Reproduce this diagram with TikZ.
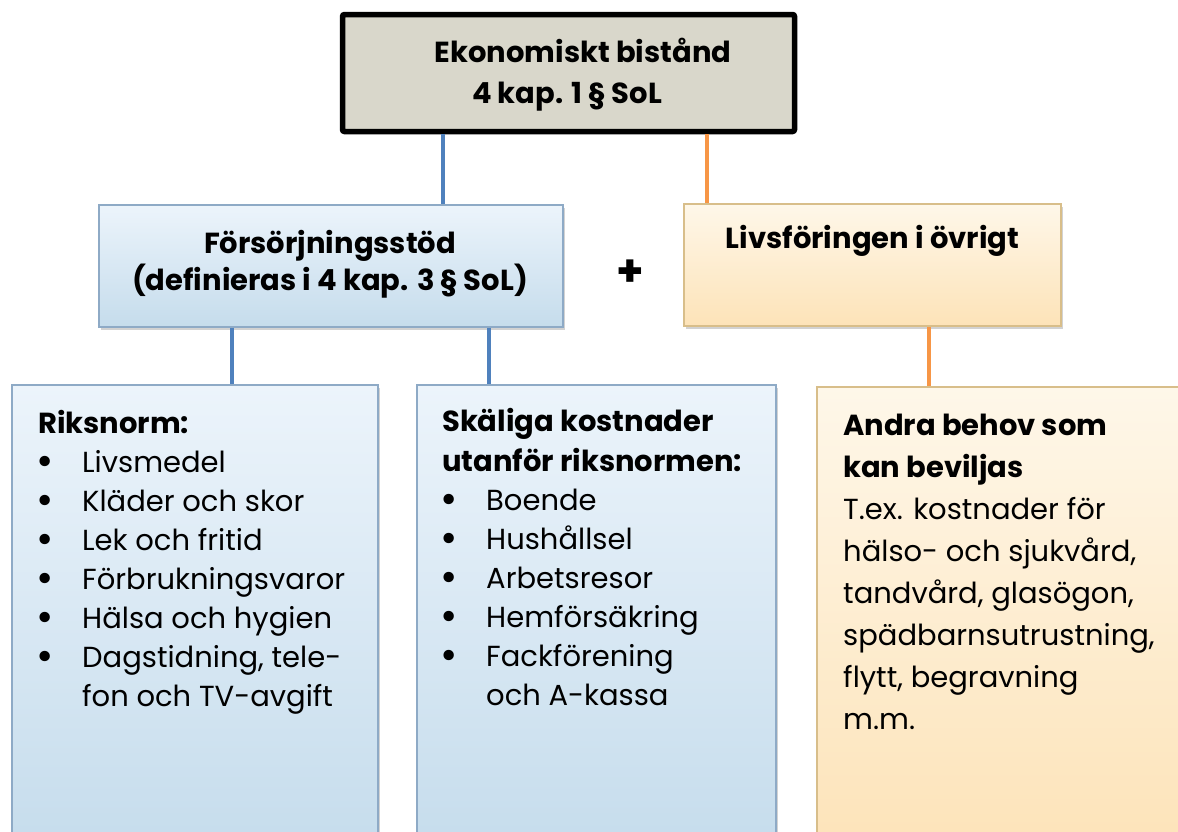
\documentclass[tikz,border=0pt]{standalone}
\usepackage{fontspec}
\setmainfont{Poppins}
\usetikzlibrary{shadows}
\definecolor{topgray}{RGB}{217,215,203}
\definecolor{lineblue}{RGB}{79,129,189}
\definecolor{lineorange}{RGB}{247,150,70}
\definecolor{blueborder}{RGB}{142,170,198}
\definecolor{bluetop}{RGB}{236,244,251}
\definecolor{bluebot}{RGB}{197,220,236}
\definecolor{orangeborder}{RGB}{216,190,138}
\definecolor{orangetop}{RGB}{254,247,233}
\definecolor{orangebot}{RGB}{253,227,184}
\tikzset{
  topbox/.style={draw=black, line width=5.5pt, fill=topgray, rounded corners=2pt, inner sep=0},
  bluebox/.style={draw=blueborder, line width=1.3pt, top color=bluetop, bottom color=bluebot, inner sep=0,
     drop shadow={shadow xshift=2pt, shadow yshift=-3pt, opacity=0.35}},
  orangebox/.style={draw=orangeborder, line width=1.3pt, top color=orangetop, bottom color=orangebot, inner sep=0,
     drop shadow={shadow xshift=2pt, shadow yshift=-3pt, opacity=0.35}},
  bline/.style={draw=lineblue, line width=3.6pt},
  oline/.style={draw=lineorange, line width=3.6pt},
  txt/.style={inner sep=0, font=\fontsize{29}{39}\selectfont},
}
\newcommand{\bul}[1]{\hbox{\makebox[44pt][l]{\hspace{-2pt}\raisebox{-3pt}{\fontsize{42}{42}\selectfont\textbullet}}#1}}
\newcommand{\cont}[1]{\hbox{\hspace{44pt}#1}}
\begin{document}
\begin{tikzpicture}[x=1pt,y=1pt]
\useasboundingbox (0,0) rectangle (1178,-831);
\fill[white] (0,0) rectangle (1178,-831);
\clip (0,0) rectangle (1178,-831);

% boxes
\node[topbox, minimum width=452pt, minimum height=117pt] (top) at (568.5,-73) {};
\node[bluebox, minimum width=464pt, minimum height=122pt] (fors) at (331,-266) {};
\node[orangebox, minimum width=377pt, minimum height=122pt] (livs) at (872.5,-265) {};
\node[bluebox, minimum width=366pt, minimum height=470pt] (riks) at (195,-620) {};
\node[bluebox, minimum width=359pt, minimum height=470pt] (skal) at (596.5,-620) {};
\node[orangebox, minimum width=380pt, minimum height=470pt] (andra) at (1007,-622) {};

% connectors
\coordinate (tA) at (443,-134);
\coordinate (tB) at (707,-134);
\draw[bline] (top.south -| tA) -- (fors.north -| tA);
\draw[oline] (top.south -| tB) -- (livs.north -| tB);
\coordinate (fA) at (232,-327);
\coordinate (fB) at (489,-327);
\draw[bline] (fors.south -| fA) -- (riks.north -| fA);
\draw[bline] (fors.south -| fB) -- (skal.north -| fB);
\coordinate (lA) at (929,-326);
\draw[oline] (livs.south -| lA) -- (andra.north -| lA);

% texts
\node[txt, anchor=base, font=\fontsize{29}{39}\selectfont\bfseries] (t1) at (583,-62) {Ekonomiskt bistånd};
\node[txt, anchor=base, font=\fontsize{29}{39}\selectfont\bfseries] (t2) at (567,-103) {4 kap. 1 § SoL};
\node[txt, anchor=base, font=\fontsize{29}{39}\selectfont\bfseries] (f1) at (330,-253) {Försörjningsstöd};
\node[txt, anchor=base, font=\fontsize{29}{39}\selectfont\bfseries] (f2) at (330,-290) {(definieras i 4 kap. 3 § SoL)};
\node[txt, anchor=base, font=\fontsize{29}{39}\selectfont\bfseries] (l1) at (872.5,-248) {Livsföringen i övrigt};
\node[txt, font=\fontsize{44}{44}\selectfont\bfseries] (plus) at (630,-273) {+};

\node[txt, anchor=base west] (rt) at (38,-433) {\vtop{\baselineskip=39pt
  \hbox{\bfseries Riksnorm:}
  \bul{Livsmedel}
  \bul{Kläder och skor}
  \bul{Lek och fritid}
  \bul{Förbrukningsvaror}
  \bul{Hälsa och hygien}
  \bul{Dagstidning, tele-}
  \cont{fon och TV-avgift}}};

\node[txt, anchor=base west] (st) at (442,-431) {\vtop{\baselineskip=40pt
  \hbox{\bfseries Skäliga kostnader}
  \hbox{\bfseries utanför riksnormen:}
  \baselineskip=39pt
  \bul{Boende}
  \bul{Hushållsel}
  \bul{Arbetsresor}
  \bul{Hemförsäkring}
  \bul{Fackförening}
  \cont{och A-kassa}}};

\node[txt, anchor=base west] (at) at (843,-435) {\vtop{\baselineskip=42pt
  \hbox{\bfseries Andra behov som}
  \hbox{\bfseries kan beviljas}
  \hbox{T.ex. kostnader för}
  \hbox{hälso- och sjukvård,}
  \hbox{tandvård, glasögon,}
  \hbox{spädbarnsutrustning,}
  \hbox{flytt, begravning}
  \hbox{m.m.}}};
\end{tikzpicture}
\end{document}
